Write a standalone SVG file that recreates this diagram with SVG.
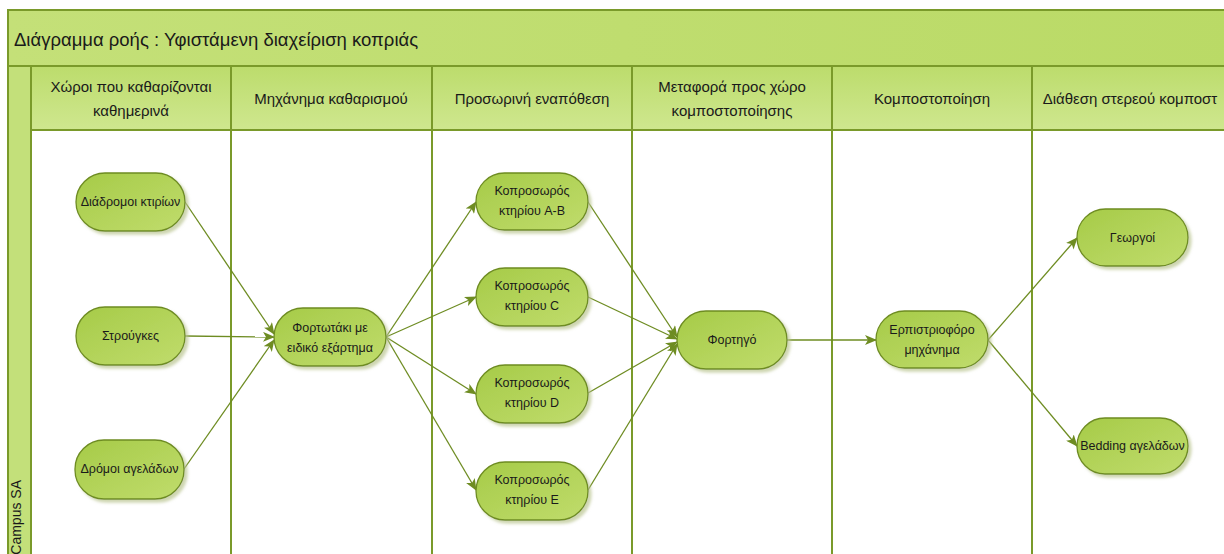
<svg xmlns="http://www.w3.org/2000/svg" width="1224" height="554" viewBox="0 0 1224 554">
<defs>
<linearGradient id="hdr" x1="0" y1="0" x2="0" y2="1">
<stop offset="0" stop-color="#bcdc6c"/><stop offset="1" stop-color="#cfe78f"/>
</linearGradient>
<linearGradient id="ttl" x1="0" y1="0" x2="1" y2="0">
<stop offset="0" stop-color="#c4e078"/><stop offset="1" stop-color="#bada66"/>
</linearGradient>
<linearGradient id="nd" x1="0" y1="0" x2="1" y2="1">
<stop offset="0" stop-color="#a6cb48"/><stop offset="1" stop-color="#c0dc6c"/>
</linearGradient>
<marker id="ar" viewBox="0 0 12 10" refX="11" refY="5" markerWidth="12" markerHeight="10" markerUnits="userSpaceOnUse" orient="auto">
<path d="M0,0 L12,5 L0,10 L3,5 Z" fill="#6e8c22"/>
</marker>
<filter id="sh" x="-20%" y="-20%" width="150%" height="150%">
<feOffset dx="3" dy="3" in="SourceAlpha" result="o"/>
<feGaussianBlur in="o" stdDeviation="1.5" result="b"/>
<feFlood flood-color="#b9c48f" flood-opacity="0.7"/>
<feComposite in2="b" operator="in"/>
<feMerge><feMergeNode/><feMergeNode in="SourceGraphic"/></feMerge>
</filter>
</defs>
<style>
.frame{fill:none;stroke:#7a9a2a;stroke-width:2}
.band{stroke:#7a9a2a;stroke-width:2}
.div{stroke:#7a9a2a;stroke-width:2;fill:none}
.hd{font-family:"Liberation Sans","Noto Sans",sans-serif;font-size:15px;fill:#1a1a1a;text-anchor:middle}
.tt{font-family:"Liberation Sans","Noto Sans",sans-serif;font-size:18.5px;fill:#1a1a1a}
.node rect{fill:url(#nd);stroke:#6e8c22;stroke-width:1.3;filter:url(#sh)}
.node text{font-family:"Liberation Sans","Noto Sans",sans-serif;font-size:12.5px;fill:#1a1a1a;text-anchor:middle}
.cn path{fill:none;stroke:#6e8c22;stroke-width:1.3;marker-end:url(#ar)}
</style>
<rect x="0" y="0" width="1224" height="554" fill="#ffffff"/>
<g id="pool">
<rect x="8" y="10" width="1230" height="56" fill="url(#ttl)" class="band"/>
<text class="tt" x="14" y="46">Διάγραμμα ροής : Υφιστάμενη διαχείριση κοπριάς</text>
<rect x="8" y="66" width="23" height="500" fill="#c3e07a" class="band"/>
<text x="21" y="480" transform="rotate(-90 21 480)" text-anchor="end" font-family="'Liberation Sans','Noto Sans',sans-serif" font-size="14px" fill="#1a1a1a">Campus SA</text>
<rect x="31" y="66" width="1210" height="64" fill="url(#hdr)" class="band"/>
<path class="div" d="M231,66 V560 M432,66 V560 M632,66 V560 M832,66 V560 M1032,66 V560"/>
<text class="hd" x="131" y="92">Χώροι που καθαρίζονται</text>
<text class="hd" x="131" y="116">καθημερινά</text>
<text class="hd" x="331" y="104">Μηχάνημα καθαρισμού</text>
<text class="hd" x="532" y="104">Προσωρινή εναπόθεση</text>
<text class="hd" x="732" y="92">Μεταφορά προς χώρο</text>
<text class="hd" x="732" y="116">κομποστοποίησης</text>
<text class="hd" x="932" y="104">Κομποστοποίηση</text>
<text class="hd" x="1130" y="104">Διάθεση στερεού κομποστ</text>
</g>
<g id="connectors" class="cn">
<path d="M185,202 L274,334"/>
<path d="M185,336 L274,337"/>
<path d="M184,469 L274,340"/>
<path d="M386,337 L476,202"/>
<path d="M386,337 L476,297"/>
<path d="M386,337 L476,394"/>
<path d="M386,337 L476,490"/>
<path d="M588,202 L677,337"/>
<path d="M588,297 L677,339"/>
<path d="M588,393 L677,342"/>
<path d="M588,490 L677,344"/>
<path d="M787,340 L876,340"/>
<path d="M988,340 L1077,238"/>
<path d="M988,340 L1077,446"/>
</g>
<g id="n1" class="node"><rect x="76" y="173" width="109" height="58" rx="29"/><text x="130.5" y="206">Διάδρομοι κτιρίων</text></g>
<g id="n2" class="node"><rect x="76" y="307" width="109" height="58" rx="29"/><text x="130.5" y="340">Στρούγκες</text></g>
<g id="n3" class="node"><rect x="75" y="440" width="109" height="59" rx="29"/><text x="129.5" y="473">Δρόμοι αγελάδων</text></g>
<g id="n4" class="node"><rect x="274" y="308" width="112" height="58" rx="29"/><text x="330" y="332">Φορτωτάκι με</text><text x="330" y="352">ειδικό εξάρτημα</text></g>
<g id="n5" class="node"><rect x="476" y="173" width="112" height="57" rx="28.5"/><text x="532" y="195">Κοπροσωρός</text><text x="532" y="215">κτηρίου A-B</text></g>
<g id="n6" class="node"><rect x="476" y="268" width="112" height="58" rx="29"/><text x="532" y="290">Κοπροσωρός</text><text x="532" y="310">κτηρίου C</text></g>
<g id="n7" class="node"><rect x="476" y="365" width="112" height="58" rx="29"/><text x="532" y="387">Κοπροσωρός</text><text x="532" y="407">κτηρίου D</text></g>
<g id="n8" class="node"><rect x="476" y="462" width="112" height="58" rx="29"/><text x="532" y="484">Κοπροσωρός</text><text x="532" y="504">κτηρίου E</text></g>
<g id="n9" class="node"><rect x="677" y="311" width="110" height="58" rx="29"/><text x="732" y="344">Φορτηγό</text></g>
<g id="n10" class="node"><rect x="876" y="311" width="112" height="57" rx="28.5"/><text x="932" y="334">Ερπιστριοφόρο</text><text x="932" y="354">μηχάνημα</text></g>
<g id="n11" class="node"><rect x="1077" y="209" width="111" height="57" rx="28.5"/><text x="1132.5" y="242">Γεωργοί</text></g>
<g id="n12" class="node"><rect x="1077" y="418" width="111" height="56" rx="28"/><text x="1132.5" y="450">Bedding αγελάδων</text></g>
</svg>
